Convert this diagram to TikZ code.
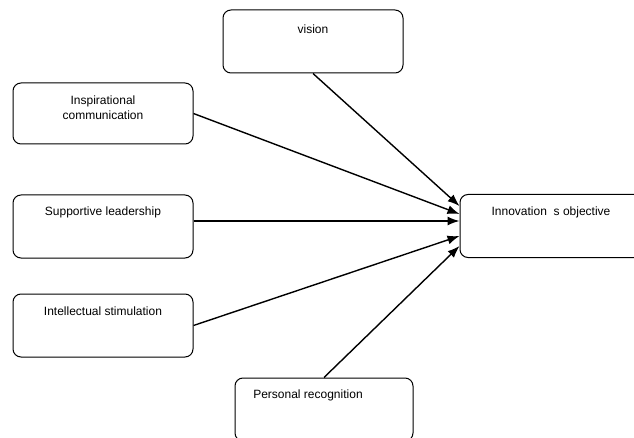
\documentclass[tikz,border=0pt]{standalone}
\usepackage{fontspec}
\setmainfont{Liberation Sans}
\usepackage{tikz}
\usetikzlibrary{arrows.meta}
\usetikzlibrary{positioning}
\tikzstyle{factor_box}=[draw=black, line width=1pt, rounded corners=8pt, fill=white]
\tikzstyle{factor_text}=[font=\fontsize{12}{15}\selectfont, align=center, inner sep=0pt]
\tikzstyle{factor_arrow}=[line width=1.4pt, -{Latex[length=12pt,width=9pt]}]

\begin{document}
\begin{tikzpicture}[x=1pt, y=1pt]
\useasboundingbox (0,0) rectangle (634,437);
\node[factor_box, minimum width=180pt, minimum height=63pt] (vision) at (313,395.5){};
\node[factor_box, minimum width=180pt, minimum height=61pt] (insp) at (103,323.5){};
\node[factor_box, minimum width=180pt, minimum height=63pt] (supp) at (103,210.5){};
\node[factor_box, minimum width=180pt, minimum height=63pt] (intel) at (103,111.5){};
\node[factor_box, minimum width=182pt, minimum height=63pt] (innov) at (551,211){};
\node[factor_box, minimum width=178pt, minimum height=63pt] (pers) at (324,27.5){};
\node[factor_text] (vision_t) at ([yshift=-20pt]vision.north){vision};
\node[factor_text] (insp_t) at ([yshift=-25pt]insp.north){Inspirational\\communication};
\node[factor_text] (supp_t) at ([yshift=-18pt]supp.north){Supportive leadership};
\node[factor_text] (intel_t) at ([yshift=-18pt]intel.north){Intellectual stimulation};
\node[factor_text] (innov_t) at ([yshift=-18pt]innov.north){Innovation\ \ s objective};
\node[factor_text] (pers_t) at ([xshift=-16pt, yshift=-18pt]pers.north){Personal recognition};
\coordinate (tin1) at ([yshift=20pt]innov.west);
\coordinate (tin2) at ([yshift=12pt]innov.west);
\coordinate (tin3) at ([yshift=5pt]innov.west);
\coordinate (tin4) at ([yshift=-10pt]innov.west);
\coordinate (tin5) at ([yshift=-20pt]innov.west);
\draw[factor_arrow](vision.south) -- (tin1);
\draw[factor_arrow](insp.east) -- (tin2);
\draw[factor_arrow](supp.east |- tin3) -- (tin3);
\draw[factor_arrow](intel.east) -- (tin4);
\draw[factor_arrow](pers.north) -- (tin5);
\end{tikzpicture}
\end{document}
